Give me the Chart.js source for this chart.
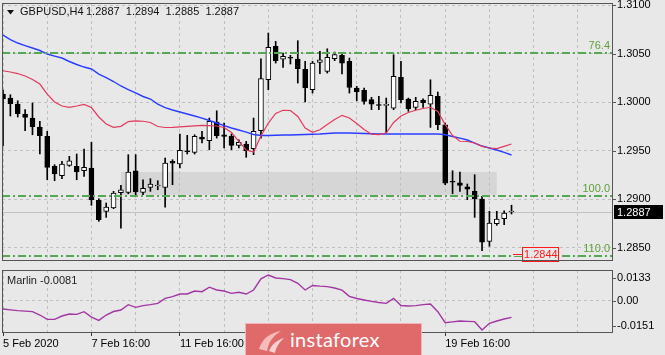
<!DOCTYPE html>
<html>
<head>
<meta charset="utf-8">
<script src="https://cdn.jsdelivr.net/npm/chart.js@4.4.1/dist/chart.umd.min.js"></script>
<style>
html, body { margin: 0; padding: 0; background: #e8e8e8; }
#wrap { position: relative; width: 665px; height: 355px; overflow: hidden; }
#main { position: absolute; left: 0; top: 0; }
#sub { position: absolute; left: 0; top: 263px; }
#logo { position: absolute; left: 245px; top: 323px; width: 177px; height: 36px; box-sizing: border-box;
        background: #e06a6a; border: 1px solid #f2b4b4; }
#logo svg { position: absolute; left: 9px; top: 3px; }
#logo span { position: absolute; left: 44px; top: 3px; line-height: 24px; font: 20px Lato, 'Liberation Sans', sans-serif;
             color: #fff; letter-spacing: 0.3px; }
</style>
</head>
<body>
<div id="wrap">
  <canvas id="main" width="665" height="263"></canvas>
  <canvas id="sub" width="665" height="92"></canvas>
  <div id="logo">
    <svg width="32" height="28" viewBox="0 0 32 28">
      <path d="M4 22 C 8 10, 16 6, 26 4 C 18 9, 14 14, 12 24 Z" fill="#f5bcbc"/>
      <path d="M14 24 C 17 17, 22 13, 29 11 C 24 16, 21 20, 20 26 Z" fill="#f8d0d0"/>
    </svg>
    <span>instaforex</span>
  </div>
</div>
<script>
// GBPUSD H4, свечи слева направо
const opens  = [1.30084,1.30043,1.29981,1.29878,1.29837,1.29745,1.29649,1.29340,1.29244,1.29350,
                1.29340,1.29295,1.29323,1.28990,1.28877,1.28911,1.29069,1.29073,1.29295,1.29073,
                1.29124,1.29138,1.29124,1.29392,1.29364,1.29495,1.29484,1.29642,1.29604,1.29796,
                1.29665,1.29649,1.29556,1.29570,1.29521,1.29707,1.30231,1.30575,1.30444,1.30455,
                1.30444,1.30338,1.30128,1.30410,1.30318,1.30447,1.30482,1.30421,1.30146,1.30122,
                1.30026,1.29968,1.29968,1.29940,1.30256,1.30033,1.29947,1.30022,1.29981,1.30061,
                1.29768,1.29179,1.29171,1.29130,1.29083,1.29004,1.28568,1.28750,1.28801,1.28870];
const highs  = [1.30125,1.30077,1.30015,1.29923,1.29992,1.29803,1.29700,1.29357,1.29392,1.29443,
                1.29467,1.29518,1.29587,1.29007,1.28963,1.29083,1.29145,1.29460,1.29460,1.29202,
                1.29213,1.29192,1.29426,1.29408,1.29673,1.29659,1.29665,1.29700,1.29837,1.29912,
                1.29786,1.29673,1.29614,1.29597,1.29837,1.30447,1.30712,1.30626,1.30506,1.30482,
                1.30633,1.30421,1.30421,1.30524,1.30550,1.30516,1.30506,1.30455,1.30163,1.30146,
                1.30050,1.30061,1.30043,1.30489,1.30421,1.30043,1.30050,1.30036,1.30231,1.30105,
                1.29786,1.29295,1.29282,1.29158,1.29254,1.29031,1.28877,1.28877,1.28883,1.28940];
const lows   = [1.29549,1.29858,1.29848,1.29707,1.29665,1.29467,1.29202,1.29192,1.29213,1.29340,
                1.29202,1.29237,1.28939,1.28774,1.28815,1.28904,1.28705,1.29058,1.29048,1.29048,
                1.29083,1.29099,1.28921,1.29151,1.29323,1.29467,1.29467,1.29580,1.29511,1.29631,
                1.29529,1.29511,1.29529,1.29433,1.29460,1.29631,1.30128,1.30403,1.30359,1.30393,
                1.30197,1.30002,1.30094,1.30293,1.30300,1.30427,1.30290,1.30094,1.30015,1.29981,
                1.29923,1.29923,1.29683,1.29923,1.29992,1.29906,1.29923,1.29947,1.29741,1.29717,
                1.29151,1.29058,1.29083,1.28997,1.28815,1.28472,1.28517,1.28733,1.28739,1.28850];
const closes = [1.30033,1.29984,1.29881,1.29844,1.29748,1.29655,1.29330,1.29261,1.29364,1.29398,
                1.29282,1.29330,1.28997,1.28791,1.28921,1.29065,1.29099,1.29282,1.29076,1.29114,
                1.29158,1.29140,1.29374,1.29374,1.29505,1.29490,1.29649,1.29621,1.29803,1.29655,
                1.29649,1.29556,1.29587,1.29501,1.29700,1.30242,1.30565,1.30427,1.30472,1.30452,
                1.30345,1.30146,1.30403,1.30437,1.30462,1.30489,1.30403,1.30153,1.30105,1.30009,
                1.29981,1.29966,1.29970,1.30266,1.30026,1.29933,1.30009,1.29995,1.30071,1.29768,
                1.29168,1.29176,1.29145,1.29104,1.29007,1.28561,1.28757,1.28798,1.28860,1.28870];

// скользящие средние
const maSlow = [1.30691,1.30645,1.30609,1.30583,1.30558,1.30532,1.30496,1.30475,1.30455,1.30419,
                1.30388,1.30362,1.30342,1.30290,1.30254,1.30213,1.30167,1.30129,1.30095,1.30059,
                1.30033,1.29981,1.29945,1.29920,1.29899,1.29879,1.29858,1.29837,1.29812,1.29786,
                1.29760,1.29735,1.29714,1.29693,1.29668,1.29657,1.29657,1.29660,1.29663,1.29663,
                1.29665,1.29668,1.29670,1.29673,1.29678,1.29683,1.29683,1.29683,1.29680,1.29678,
                1.29675,1.29673,1.29673,1.29673,1.29673,1.29673,1.29673,1.29673,1.29673,1.29673,
                1.29665,1.29647,1.29630,1.29611,1.29580,1.29549,1.29529,1.29508,1.29483,1.29457];
const maFast = [1.30324,1.30311,1.30295,1.30270,1.30234,1.30187,1.30084,1.30002,1.29961,1.29948,
                1.29961,1.29978,1.29945,1.29848,1.29776,1.29742,1.29752,1.29801,1.29807,1.29804,
                1.29791,1.29750,1.29740,1.29742,1.29747,1.29752,1.29757,1.29762,1.29760,1.29755,
                1.29740,1.29688,1.29596,1.29508,1.29488,1.29652,1.29786,1.29884,1.29917,1.29915,
                1.29853,1.29735,1.29690,1.29717,1.29771,1.29822,1.29865,1.29837,1.29781,1.29719,
                1.29671,1.29666,1.29683,1.29791,1.29858,1.29894,1.29917,1.29935,1.29948,1.29904,
                1.29769,1.29657,1.29598,1.29596,1.29580,1.29546,1.29529,1.29522,1.29546,1.29570];

// индикатор Marlin
const marlin = [-0.0051,-0.0056,-0.0061,-0.0064,-0.0067,-0.0087,-0.0113,-0.0113,-0.0093,-0.0081,
                -0.0083,-0.0067,-0.0100,-0.0119,-0.0087,-0.0066,-0.0057,-0.0025,-0.0041,-0.0031,
                -0.0025,-0.0017,0.0013,0.0023,0.0039,0.0039,0.0057,0.0053,0.0080,0.0063,
                0.0057,0.0043,0.0049,0.0039,0.0063,0.0130,0.0153,0.0135,0.0131,0.0125,
                0.0103,0.0063,0.0090,0.0086,0.0083,0.0075,0.0062,0.0025,0.0012,0.0003,
                -0.0005,-0.0012,-0.0017,0.0013,-0.0030,-0.0033,-0.0031,-0.0025,-0.0021,-0.0067,
                -0.0133,-0.0128,-0.0123,-0.0125,-0.0127,-0.0177,-0.0137,-0.0123,-0.0111,-0.0101];
const marlinCurrent = '-0.0081';

const priceTicks = [1.2850, 1.2900, 1.2950, 1.3000, 1.3050, 1.3100];
const marlinTicks = [-0.0151, 0, 0.0133];
const dateTickIdx = [0, 12, 24, 36, 48, 60];
const dateLabels = ['5 Feb 2020', '7 Feb 16:00', '11 Feb 16:00', '13 Feb 16:00', '17 Feb 16:00', '19 Feb 16:00'];
const gridIdx = [0, 6, 12, 18, 24, 30, 36, 42, 48, 54, 60, 66, 72, 78];

const fibNames = ['76.4', '100.0', '110.0'];
const fibPrices = [1.30505, 1.29035, 1.28420];
const zoneIdx = [16, 67];
const zonePrices = [1.29282, 1.29045];
const bidPrice = 1.2887;
const markPrice = 1.2844;

const FONT = "'Liberation Sans', Arial, sans-serif";
const xMin = -0.136, xMax = 82.77;

const bodyData = opens.map((o, i) => ({ x: i, y: [o, closes[i]] }));
const wickData = opens.map((o, i) => ({ x: i, y: [lows[i], highs[i]] }));
const bodyColors = opens.map((o, i) => closes[i] >= o ? '#ffffff' : '#000000');

// убираем автоматические отступы под подписи осей
function noPad(s) {
    s.paddingTop = 0; s.paddingBottom = 0; s.paddingLeft = 0; s.paddingRight = 0;
}

const mainDecor = {
    id: 'mainDecor',
    beforeDraw(chart) {
        const { ctx, scales: { x, y } } = chart;
        const x1 = x.getPixelForValue(zoneIdx[0]), x2 = x.getPixelForValue(zoneIdx[1]);
        const y1 = y.getPixelForValue(zonePrices[0]), y2 = y.getPixelForValue(zonePrices[1]);
        ctx.save();
        ctx.fillStyle = '#d6d6d6';
        ctx.fillRect(x1, y1, x2 - x1, y2 - y1);
        ctx.restore();
    },
    beforeDatasetsDraw(chart) {
        const { ctx, chartArea: a, scales: { y } } = chart;
        const by = Math.round(y.getPixelForValue(bidPrice)) + 0.5;
        ctx.save();
        ctx.strokeStyle = '#c2c2c2';
        ctx.lineWidth = 1;
        ctx.beginPath();
        ctx.moveTo(a.left, by);
        ctx.lineTo(a.right, by);
        ctx.stroke();
        ctx.restore();
    },
    afterDatasetsDraw(chart) {
        const { ctx, chartArea: a, scales: { x, y } } = chart;
        ctx.save();
        // уровни Фибоначчи
        ctx.lineWidth = 2;
        ctx.strokeStyle = '#55a955';
        ctx.setLineDash([8, 3, 2, 3]);
        ctx.font = '11px ' + FONT;
        ctx.textAlign = 'right';
        ctx.textBaseline = 'middle';
        fibPrices.forEach((p, k) => {
            const fy = Math.round(y.getPixelForValue(p));
            ctx.beginPath();
            ctx.moveTo(a.left, fy);
            ctx.lineTo(a.right - 1, fy);
            ctx.stroke();
            ctx.fillStyle = '#5f9f3a';
            ctx.fillText(fibNames[k], a.right - 3, fy - 7);
        });
        ctx.setLineDash([]);
        // ценовая метка 1.2844
        const mx = x.getPixelForValue(opens.length - 1) + 1.5;
        const my = Math.round(y.getPixelForValue(markPrice)) + 0.5;
        const bx = Math.round(mx + 9) + 0.5;
        ctx.fillStyle = '#e8e8e8';
        ctx.fillRect(mx, my - 1.5, 9, 3);
        ctx.fillRect(bx, my - 7, 36, 14);
        ctx.strokeStyle = '#ff1a1a';
        ctx.lineWidth = 1;
        ctx.beginPath();
        ctx.moveTo(mx, my);
        ctx.lineTo(mx + 9, my);
        ctx.stroke();
        ctx.strokeRect(bx, my - 7, 36, 14);
        ctx.fillStyle = '#ff1a1a';
        ctx.textAlign = 'left';
        ctx.fillText(markPrice.toFixed(4), mx + 11, my + 0.5);
        ctx.restore();
    },
    afterDraw(chart) {
        const { ctx, chartArea: a, scales: { y } } = chart;
        ctx.save();
        ctx.strokeStyle = '#555';
        ctx.lineWidth = 1;
        ctx.strokeRect(a.left + 0.5, a.top + 0.5, a.right - a.left - 1, a.bottom - a.top - 1);
        priceTicks.forEach(p => {
            const ty = Math.round(y.getPixelForValue(p)) + 0.5;
            ctx.beginPath();
            ctx.moveTo(a.right, ty);
            ctx.lineTo(a.right + 3, ty);
            ctx.stroke();
        });
        // заголовок
        ctx.fillStyle = '#111';
        ctx.beginPath();
        ctx.moveTo(7, 10); ctx.lineTo(14, 10); ctx.lineTo(10.5, 14.5);
        ctx.closePath();
        ctx.fill();
        ctx.font = '11px ' + FONT;
        ctx.textBaseline = 'middle';
        ctx.textAlign = 'left';
        ctx.fillText('GBPUSD,H4', 20, 12);
        const last = opens.length - 1;
        [opens[last], highs[last], lows[last], closes[last]].forEach((v, k) => {
            ctx.fillText(v.toFixed(4), 86 + k * 39.8, 12);
        });
        // текущая цена
        const by = Math.round(y.getPixelForValue(bidPrice));
        ctx.fillStyle = '#000';
        ctx.fillRect(a.right + 1, by - 7, 49, 14);
        ctx.fillStyle = '#fff';
        ctx.fillText(bidPrice.toFixed(4), a.right + 4, by + 0.5);
        ctx.restore();
    }
};

const mainChart = new Chart(document.getElementById('main').getContext('2d'), {
    type: 'bar',
    data: {
        datasets: [
            { type: 'line', data: maFast.map((v, i) => ({ x: i, y: v })), borderColor: '#e23a5c', borderWidth: 1.2,
              pointRadius: 0, tension: 0, order: 0 },
            { type: 'line', data: maSlow.map((v, i) => ({ x: i, y: v })), borderColor: '#2a3cff', borderWidth: 1.4,
              pointRadius: 0, tension: 0, order: 0 },
            { data: bodyData, backgroundColor: bodyColors, borderColor: '#000', borderWidth: 1, borderSkipped: false,
              barThickness: 5, minBarLength: 1, grouped: false, order: 1 },
            { data: wickData, backgroundColor: '#000', barThickness: 1, grouped: false, order: 2 }
        ]
    },
    options: {
        responsive: false,
        animation: false,
        devicePixelRatio: 1,
        events: [],
        layout: { padding: { left: 2, top: 3, right: 0, bottom: 2 } },
        plugins: { legend: { display: false }, tooltip: { enabled: false } },
        scales: {
            x: {
                type: 'linear', min: xMin, max: xMax, offset: false,
                afterBuildTicks: s => { s.ticks = gridIdx.map(v => ({ value: v })); },
                ticks: { display: false },
                grid: { color: '#c0c0c0', drawTicks: false, offset: false },
                border: { display: false, dash: [3, 3] },
                afterFit: s => { s.height = 0; noPad(s); }
            },
            y: {
                position: 'right', min: 1.28366, max: 1.31021, beginAtZero: false,
                afterBuildTicks: s => { s.ticks = priceTicks.map(v => ({ value: v })); },
                ticks: { padding: 4, color: '#000', font: { family: FONT, size: 11 }, callback: v => v.toFixed(4) },
                grid: { color: '#c0c0c0', drawTicks: false },
                border: { display: false, dash: [3, 3] },
                afterFit: s => { s.width = 52; noPad(s); }
            }
        }
    },
    plugins: [mainDecor]
});

const subDecor = {
    id: 'subDecor',
    afterDraw(chart) {
        const { ctx, chartArea: a, scales: { y } } = chart;
        ctx.save();
        ctx.strokeStyle = '#555';
        ctx.lineWidth = 1;
        ctx.strokeRect(a.left + 0.5, a.top + 0.5, a.right - a.left - 1, a.bottom - a.top - 1);
        marlinTicks.forEach(v => {
            const ty = Math.round(y.getPixelForValue(v)) + 0.5;
            ctx.beginPath();
            ctx.moveTo(a.right, ty);
            ctx.lineTo(a.right + 3, ty);
            ctx.stroke();
        });
        ctx.fillStyle = '#222';
        ctx.font = '11px ' + FONT;
        ctx.textBaseline = 'middle';
        ctx.fillText('Marlin ' + marlinCurrent, 7, a.top + 11);
        ctx.restore();
    }
};

const subChart = new Chart(document.getElementById('sub').getContext('2d'), {
    type: 'line',
    data: {
        datasets: [{
            data: marlin.map((v, i) => ({ x: i, y: v })),
            borderColor: '#a236a2', borderWidth: 1.4, pointRadius: 0, tension: 0
        }]
    },
    options: {
        responsive: false,
        animation: false,
        devicePixelRatio: 1,
        events: [],
        layout: { padding: { left: 2, top: 7, right: 0, bottom: 0 } },
        plugins: { legend: { display: false }, tooltip: { enabled: false } },
        scales: {
            x: {
                type: 'linear', min: xMin, max: xMax, offset: false,
                afterBuildTicks: s => { s.ticks = gridIdx.map(v => ({ value: v })); },
                ticks: {
                    autoSkip: false, maxRotation: 0, align: 'start', padding: 1, color: '#000',
                    font: { family: FONT, size: 11 },
                    callback: v => { const k = dateTickIdx.indexOf(v); return k >= 0 ? dateLabels[k] : ''; }
                },
                grid: { color: '#c0c0c0', tickLength: 3,
                        tickColor: c => dateTickIdx.includes(c.tick && c.tick.value) ? '#333' : 'rgba(0,0,0,0)' },
                border: { display: false, dash: [3, 3] },
                afterFit: s => { s.height = 22; noPad(s); }
            },
            y: {
                position: 'right', min: -0.0195, max: 0.0183,
                afterBuildTicks: s => { s.ticks = marlinTicks.map(v => ({ value: v })); },
                ticks: { padding: 4, color: '#000', font: { family: FONT, size: 11 },
                         callback: v => v === 0 ? '0.00' : v.toFixed(4) },
                grid: { drawTicks: false, color: c => (c.tick && c.tick.value === 0) ? '#c0c0c0' : 'rgba(0,0,0,0)' },
                border: { display: false, dash: [3, 3] },
                afterFit: s => { s.width = 52; noPad(s); }
            }
        }
    },
    plugins: [subDecor]
});
</script>
</body>
</html>
